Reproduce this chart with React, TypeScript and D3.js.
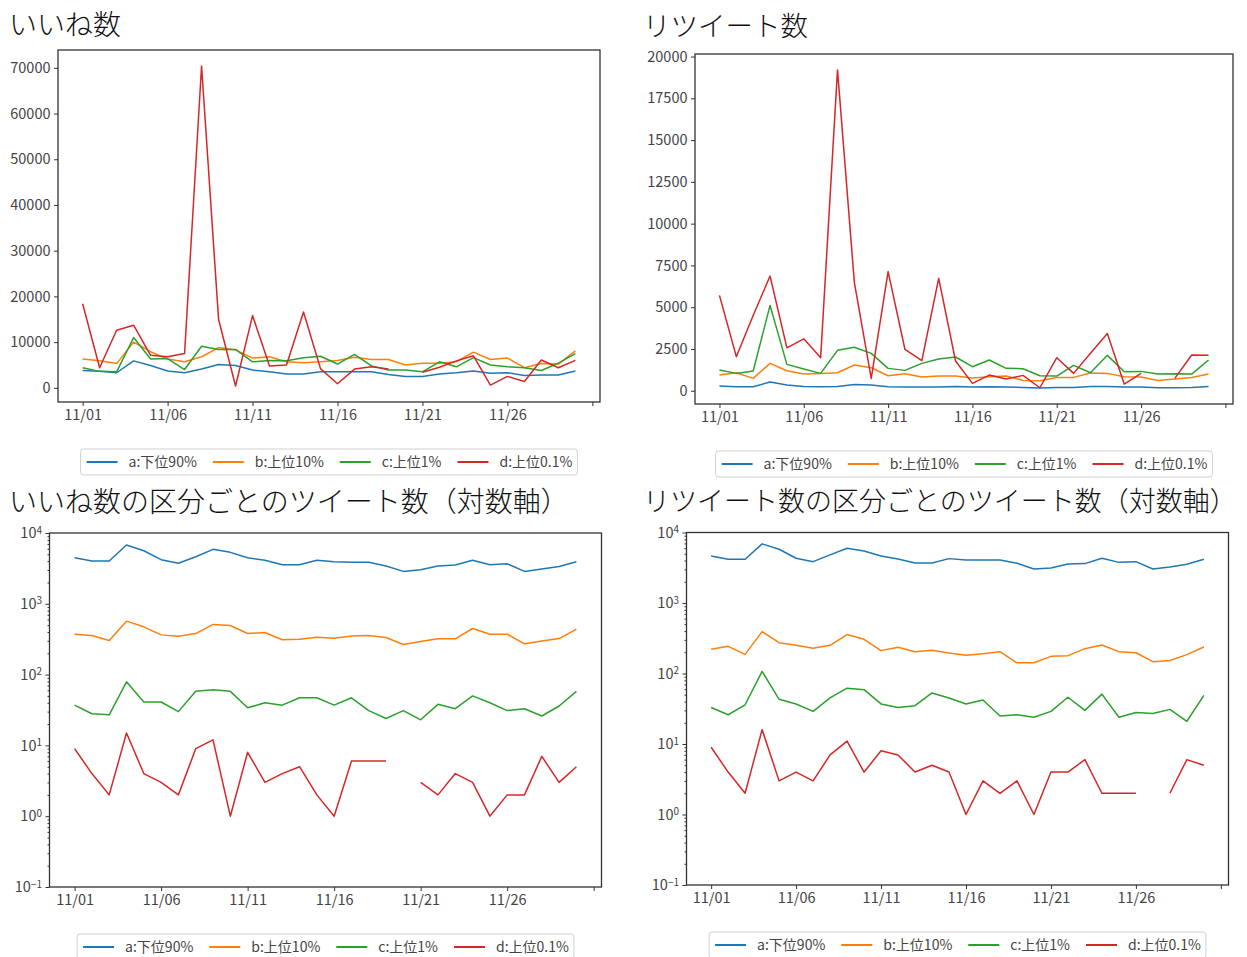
import { useEffect, useRef } from "react";
import * as d3 from "d3";

const W = 1247;
const H = 957;

const DATES = [
  "11/01", "11/02", "11/03", "11/04", "11/05", "11/06", "11/07", "11/08", "11/09", "11/10",
  "11/11", "11/12", "11/13", "11/14", "11/15", "11/16", "11/17", "11/18", "11/19", "11/20",
  "11/21", "11/22", "11/23", "11/24", "11/25", "11/26", "11/27", "11/28", "11/29", "11/30",
];
const TICK_DAYS = [0, 5, 10, 15, 20, 25, 30];
const TICK_LABELS = ["11/01", "11/06", "11/11", "11/16", "11/21", "11/26", ""];
const SERIES_NAMES = ["a:下位90%", "b:上位10%", "c:上位1%", "d:上位0.1%"];
const COLORS = ["#1f77b4", "#ff7f0e", "#2ca02c", "#d62728"];

// いいね数
const LIKE_A = [3800, 3600, 3300, 5900, 4900, 3700, 3300, 4100, 5100, 4900, 3900, 3500, 3000, 3000, 3500, 3500, 3500, 3500, 2900, 2500, 2500, 3000, 3300, 3700, 3200, 3300, 2700, 2800, 2800, 3700];
const LIKE_B = [6300, 5900, 5300, 10000, 7900, 6300, 5700, 6800, 8800, 8300, 6500, 6800, 5700, 5500, 5700, 6000, 6700, 6200, 6200, 5000, 5400, 5400, 5700, 7800, 6200, 6500, 4400, 5300, 5200, 8100];
const LIKE_C = [4400, 3600, 3500, 11000, 6300, 6400, 4000, 9100, 8400, 8400, 5700, 6000, 5900, 6600, 6900, 5200, 7300, 4800, 3900, 3900, 3500, 5700, 4600, 6600, 5000, 4600, 4400, 3800, 5400, 7500];
const LIKE_D = [18400, 4400, 12600, 13700, 7100, 6800, 7500, 70400, 15000, 400, 15800, 4800, 5000, 16600, 4200, 900, 4100, 4600, 4100, null, 3400, 4500, 5900, 7000, 600, 2500, 1400, 6100, 4400, 6000];

// リツイート数
const RT_A = [280, 240, 240, 520, 340, 260, 240, 260, 380, 340, 240, 220, 220, 220, 260, 220, 240, 220, 200, 160, 200, 200, 260, 260, 220, 220, 180, 180, 200, 260];
const RT_B = [940, 1080, 740, 1640, 1200, 1000, 1040, 1080, 1540, 1380, 900, 1020, 820, 880, 880, 760, 840, 880, 620, 600, 800, 800, 1060, 1040, 840, 820, 620, 700, 800, 1000];
const RT_C = [1240, 1040, 1180, 5110, 1580, 1300, 1040, 2420, 2600, 2240, 1340, 1220, 1640, 1900, 2020, 1440, 1840, 1340, 1320, 900, 880, 1520, 1080, 2120, 1140, 1160, 1000, 1020, 1000, 1840];
const RT_D = [5710, 2040, 4500, 6870, 2570, 3110, 1980, 19200, 6470, 740, 7130, 2470, 1800, 6730, 1780, 440, 940, 700, 920, 180, 1980, 1040, 2240, 3430, 400, 1040, null, 740, 2140, 2120];

// いいね数の区分ごとのツイート数
const LIKE_CNT_A = [4480, 4020, 4020, 6760, 5620, 4200, 3730, 4620, 5880, 5330, 4480, 4110, 3560, 3560, 4110, 3930, 3850, 3850, 3410, 2870, 3030, 3410, 3530, 4110, 3560, 3680, 2870, 3100, 3370, 3930];
const LIKE_CNT_B = [372, 357, 303, 569, 473, 364, 349, 380, 511, 493, 380, 393, 310, 316, 338, 327, 352, 357, 334, 266, 293, 320, 320, 448, 372, 372, 272, 299, 323, 438];
const LIKE_CNT_C = [37, 28, 27, 79, 41, 41, 30, 58, 61, 58, 34, 40, 37, 47, 47, 37, 47, 31, 24, 31, 23, 38, 33, 50, 40, 31, 33, 26, 36, 58];
const LIKE_CNT_D = [9, 4, 2, 15, 4, 3, 2, 9, 12, 1, 8, 3, 4, 5, 2, 1, 6, 6, 6, null, 3, 2, 4, 3, 1, 2, 2, 7, 3, 5];

// リツイート数の区分ごとのツイート数
const RT_CNT_A = [4650, 4170, 4170, 6900, 5790, 4310, 3860, 4810, 5980, 5480, 4650, 4210, 3700, 3700, 4260, 4080, 4080, 4080, 3660, 3040, 3140, 3580, 3620, 4310, 3770, 3860, 3040, 3250, 3540, 4170];
const RT_CNT_B = [220, 243, 187, 393, 274, 251, 228, 251, 357, 306, 211, 235, 204, 213, 195, 181, 191, 204, 142, 142, 175, 179, 225, 254, 204, 197, 147, 153, 185, 238];
const RT_CNT_C = [33, 26, 36, 107, 43, 37, 29, 45, 62, 59, 37, 33, 35, 53, 45, 37, 42, 25, 26, 24, 29, 46, 30, 51, 24, 28, 27, 31, 21, 49];
const RT_CNT_D = [9, 4, 2, 16, 3, 4, 3, 7, 11, 4, 8, 7, 4, 5, 4, 1, 3, 2, 3, 1, 4, 4, 6, 2, 2, 2, null, 2, 6, 5];

const LIKE_Y_TICKS = [0, 10000, 20000, 30000, 40000, 50000, 60000, 70000];
const RT_Y_TICKS = [0, 2500, 5000, 7500, 10000, 12500, 15000, 17500, 20000];
const LOG_Y_TICKS = [0.1, 1, 10, 100, 1000, 10000];

const FONT = "'Noto Sans CJK JP', 'Noto Sans', sans-serif";
const TICK_COLOR = "#444";
const SPINE = "#333";

type Box = { left: number; right: number; top: number; bottom: number };
type PanelProps = {
  title: string;
  titleX: number;
  titleY: number;
  titleSize: number;
  box: Box;
  series: (number | null)[][];
  log?: boolean;
  yTicks: number[];
};

const SUPERS: Record<string, string> = { "-1": "−1", "0": "0", "1": "1", "2": "2", "3": "3", "4": "4" };

const Panel = ({ title, titleX, titleY, titleSize, box, series, log, yTicks }: PanelProps) => {
  const axesRef = useRef<SVGGElement>(null);
  const legendRef = useRef<SVGGElement>(null);

  const pad = (DATES.length - 1) * 0.05;
  const x = d3
    .scaleLinear()
    .domain([-pad, DATES.length - 1 + pad])
    .range([box.left, box.right]);

  let y: any;
  if (log) {
    y = d3.scaleLog().domain([0.1, 10000]).range([box.bottom, box.top]);
  } else {
    const vals = series.flat().filter((v) => v != null) as number[];
    const [lo, hi] = d3.extent(vals) as [number, number];
    const m = (hi - lo) * 0.05;
    y = d3.scaleLinear().domain([lo - m, hi + m]).range([box.bottom, box.top]);
  }

  const line = d3
    .line<number | null>()
    .defined((d) => d != null)
    .x((_, i) => x(i))
    .y((d) => y(d as number));

  useEffect(() => {
    const g = d3.select(axesRef.current);
    g.selectAll("*").remove();

    const xAxis = d3
      .axisBottom(x)
      .tickValues(TICK_DAYS)
      .tickFormat((_, i) => TICK_LABELS[i])
      .tickSize(4)
      .tickPadding(4);
    const gx = g.append("g").attr("transform", `translate(0,${box.bottom})`).call(xAxis);

    const yAxis = d3.axisLeft(y).tickValues(yTicks).tickSize(4).tickPadding(3.5);
    if (log) yAxis.tickFormat(() => "");
    else yAxis.tickFormat((d: any) => String(d));
    const gy = g.append("g").attr("transform", `translate(${box.left},0)`).call(yAxis);

    if (log) {
      gy.selectAll<SVGTextElement, number>(".tick text").each(function (d) {
        const e = String(Math.round(Math.log10(d)));
        const t = d3.select(this);
        t.text("10");
        t.append("tspan").attr("dy", "-0.45em").attr("font-size", "10px").text(SUPERS[e]);
      });
      const minors: number[] = [];
      [0.1, 1, 10, 100, 1000].forEach((dec) => {
        for (let k = 2; k <= 9; k++) minors.push(dec * k);
      });
      g.append("g")
        .attr("transform", `translate(${box.left},0)`)
        .call(d3.axisLeft(y).tickValues(minors).tickSize(2).tickFormat(() => ""))
        .select(".domain")
        .remove();
    }

    g.selectAll(".domain").remove();
    g.selectAll(".tick line").attr("stroke", SPINE).attr("stroke-width", 1);
    g.selectAll(".tick text")
      .attr("fill", TICK_COLOR)
      .attr("font-family", FONT)
      .attr("font-size", 14.5);
    gx.selectAll(".tick text").attr("font-size", 14.5);

    // legend
    const lg = d3.select(legendRef.current);
    lg.selectAll("*").remove();
    const items = lg.append("g");
    let cx = 6;
    SERIES_NAMES.forEach((name, i) => {
      items
        .append("line")
        .attr("x1", cx)
        .attr("x2", cx + 31)
        .attr("y1", 13)
        .attr("y2", 13)
        .attr("stroke", COLORS[i])
        .attr("stroke-width", 2);
      const t = items
        .append("text")
        .attr("x", cx + 42)
        .attr("y", 13)
        .attr("dy", "0.36em")
        .attr("font-family", FONT)
        .attr("font-size", 14)
        .attr("fill", "#444")
        .text(name);
      const w = (t.node() as SVGTextElement).getComputedTextLength();
      cx += 42 + w + (i < SERIES_NAMES.length - 1 ? 16 : 5);
    });
    lg.insert("rect", ":first-child")
      .attr("width", cx)
      .attr("height", 26)
      .attr("rx", 3)
      .attr("fill", "#fff")
      .attr("stroke", "#d0d0d0")
      .attr("stroke-width", 1);
    lg.attr(
      "transform",
      `translate(${(box.left + box.right) / 2 - cx / 2},${box.bottom + 47})`
    );
  }, []);

  return (
    <g>
      <text
        x={titleX}
        y={titleY}
        fontFamily={FONT}
        fontSize={titleSize}
        fontWeight={300}
        fill="#111"
      >
        {title}
      </text>
      {series.map((s, i) => (
        <path
          key={i}
          d={line(s) || ""}
          fill="none"
          stroke={COLORS[i]}
          strokeWidth={1.5}
          strokeLinejoin="round"
        />
      ))}
      <rect
        x={box.left}
        y={box.top}
        width={box.right - box.left}
        height={box.bottom - box.top}
        fill="none"
        stroke={SPINE}
        strokeWidth={1.3}
      />
      <g ref={axesRef} />
      <g ref={legendRef} />
    </g>
  );
};

export default function App() {
  return (
    <svg
      width={W}
      height={H}
      style={{ position: "absolute", left: 0, top: 0, background: "#fff" }}
    >
      <rect width={W} height={H} fill="#fff" />
      <Panel
        title="いいね数"
        titleX={9}
        titleY={35}
        titleSize={28}
        box={{ left: 58, right: 600, top: 50, bottom: 402 }}
        series={[LIKE_A, LIKE_B, LIKE_C, LIKE_D]}
        yTicks={LIKE_Y_TICKS}
      />
      <Panel
        title="リツイート数"
        titleX={643}
        titleY={36}
        titleSize={27.5}
        box={{ left: 695, right: 1233, top: 54, bottom: 404 }}
        series={[RT_A, RT_B, RT_C, RT_D]}
        yTicks={RT_Y_TICKS}
      />
      <Panel
        title="いいね数の区分ごとのツイート数（対数軸）"
        titleX={9}
        titleY={512}
        titleSize={28}
        box={{ left: 49.5, right: 601.5, top: 533, bottom: 887 }}
        series={[LIKE_CNT_A, LIKE_CNT_B, LIKE_CNT_C, LIKE_CNT_D]}
        yTicks={LOG_Y_TICKS}
        log
      />
      <Panel
        title="リツイート数の区分ごとのツイート数（対数軸）"
        titleX={643}
        titleY={511}
        titleSize={27}
        box={{ left: 686.5, right: 1228.5, top: 532.5, bottom: 885 }}
        series={[RT_CNT_A, RT_CNT_B, RT_CNT_C, RT_CNT_D]}
        yTicks={LOG_Y_TICKS}
        log
      />
    </svg>
  );
}
